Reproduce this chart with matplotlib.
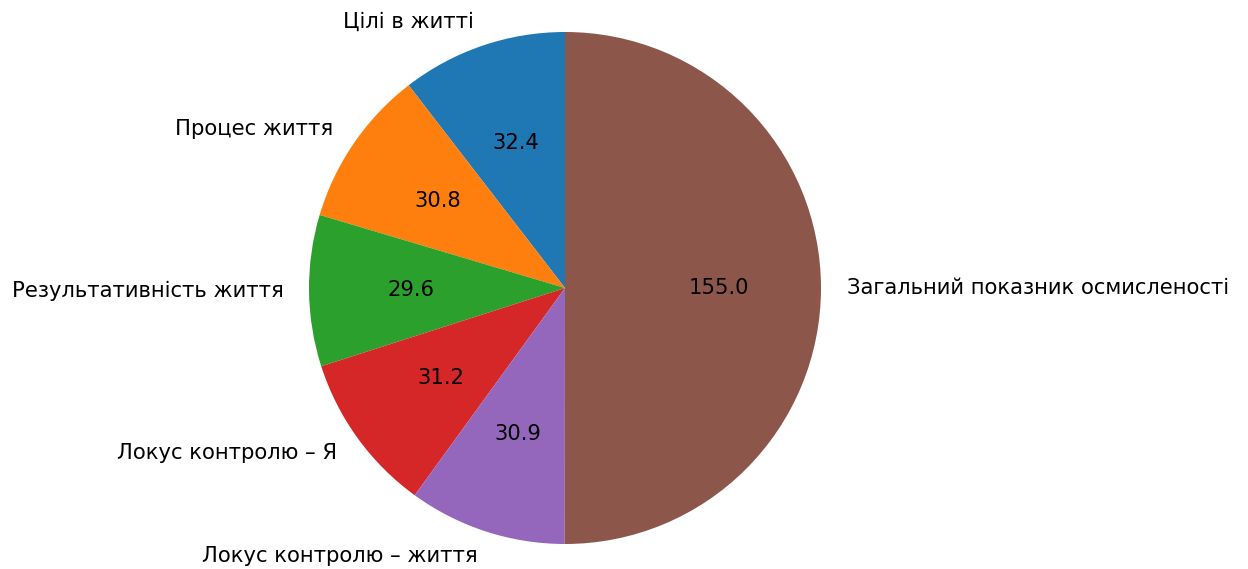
import matplotlib.pyplot as plt

# Дані діаграми
labels = ['Цілі в житті', 'Процес життя', 'Результативність життя',
          'Локус контролю – Я', 'Локус контролю – життя',
          'Загальний показник осмисленості']
values = [32.4, 30.8, 29.6, 31.2, 30.9, 155.0]

total = sum(values)

fig = plt.figure(figsize=(12.48, 5.69), dpi=100)
W, H = 1248, 569
cx, cy, r = 565, 288, 256
ax = fig.add_axes([(cx - r) / W, (H - cy - r) / H, 2 * r / W, 2 * r / H])

ax.pie(values, labels=labels, startangle=90,
       autopct=lambda p: f'{p * total / 100:.1f}',
       textprops={'fontsize': 15.2})
ax.set_xlim(-1, 1)
ax.set_ylim(-1, 1)
ax.set_aspect('equal')

fig.savefig('out.png', dpi=100)
